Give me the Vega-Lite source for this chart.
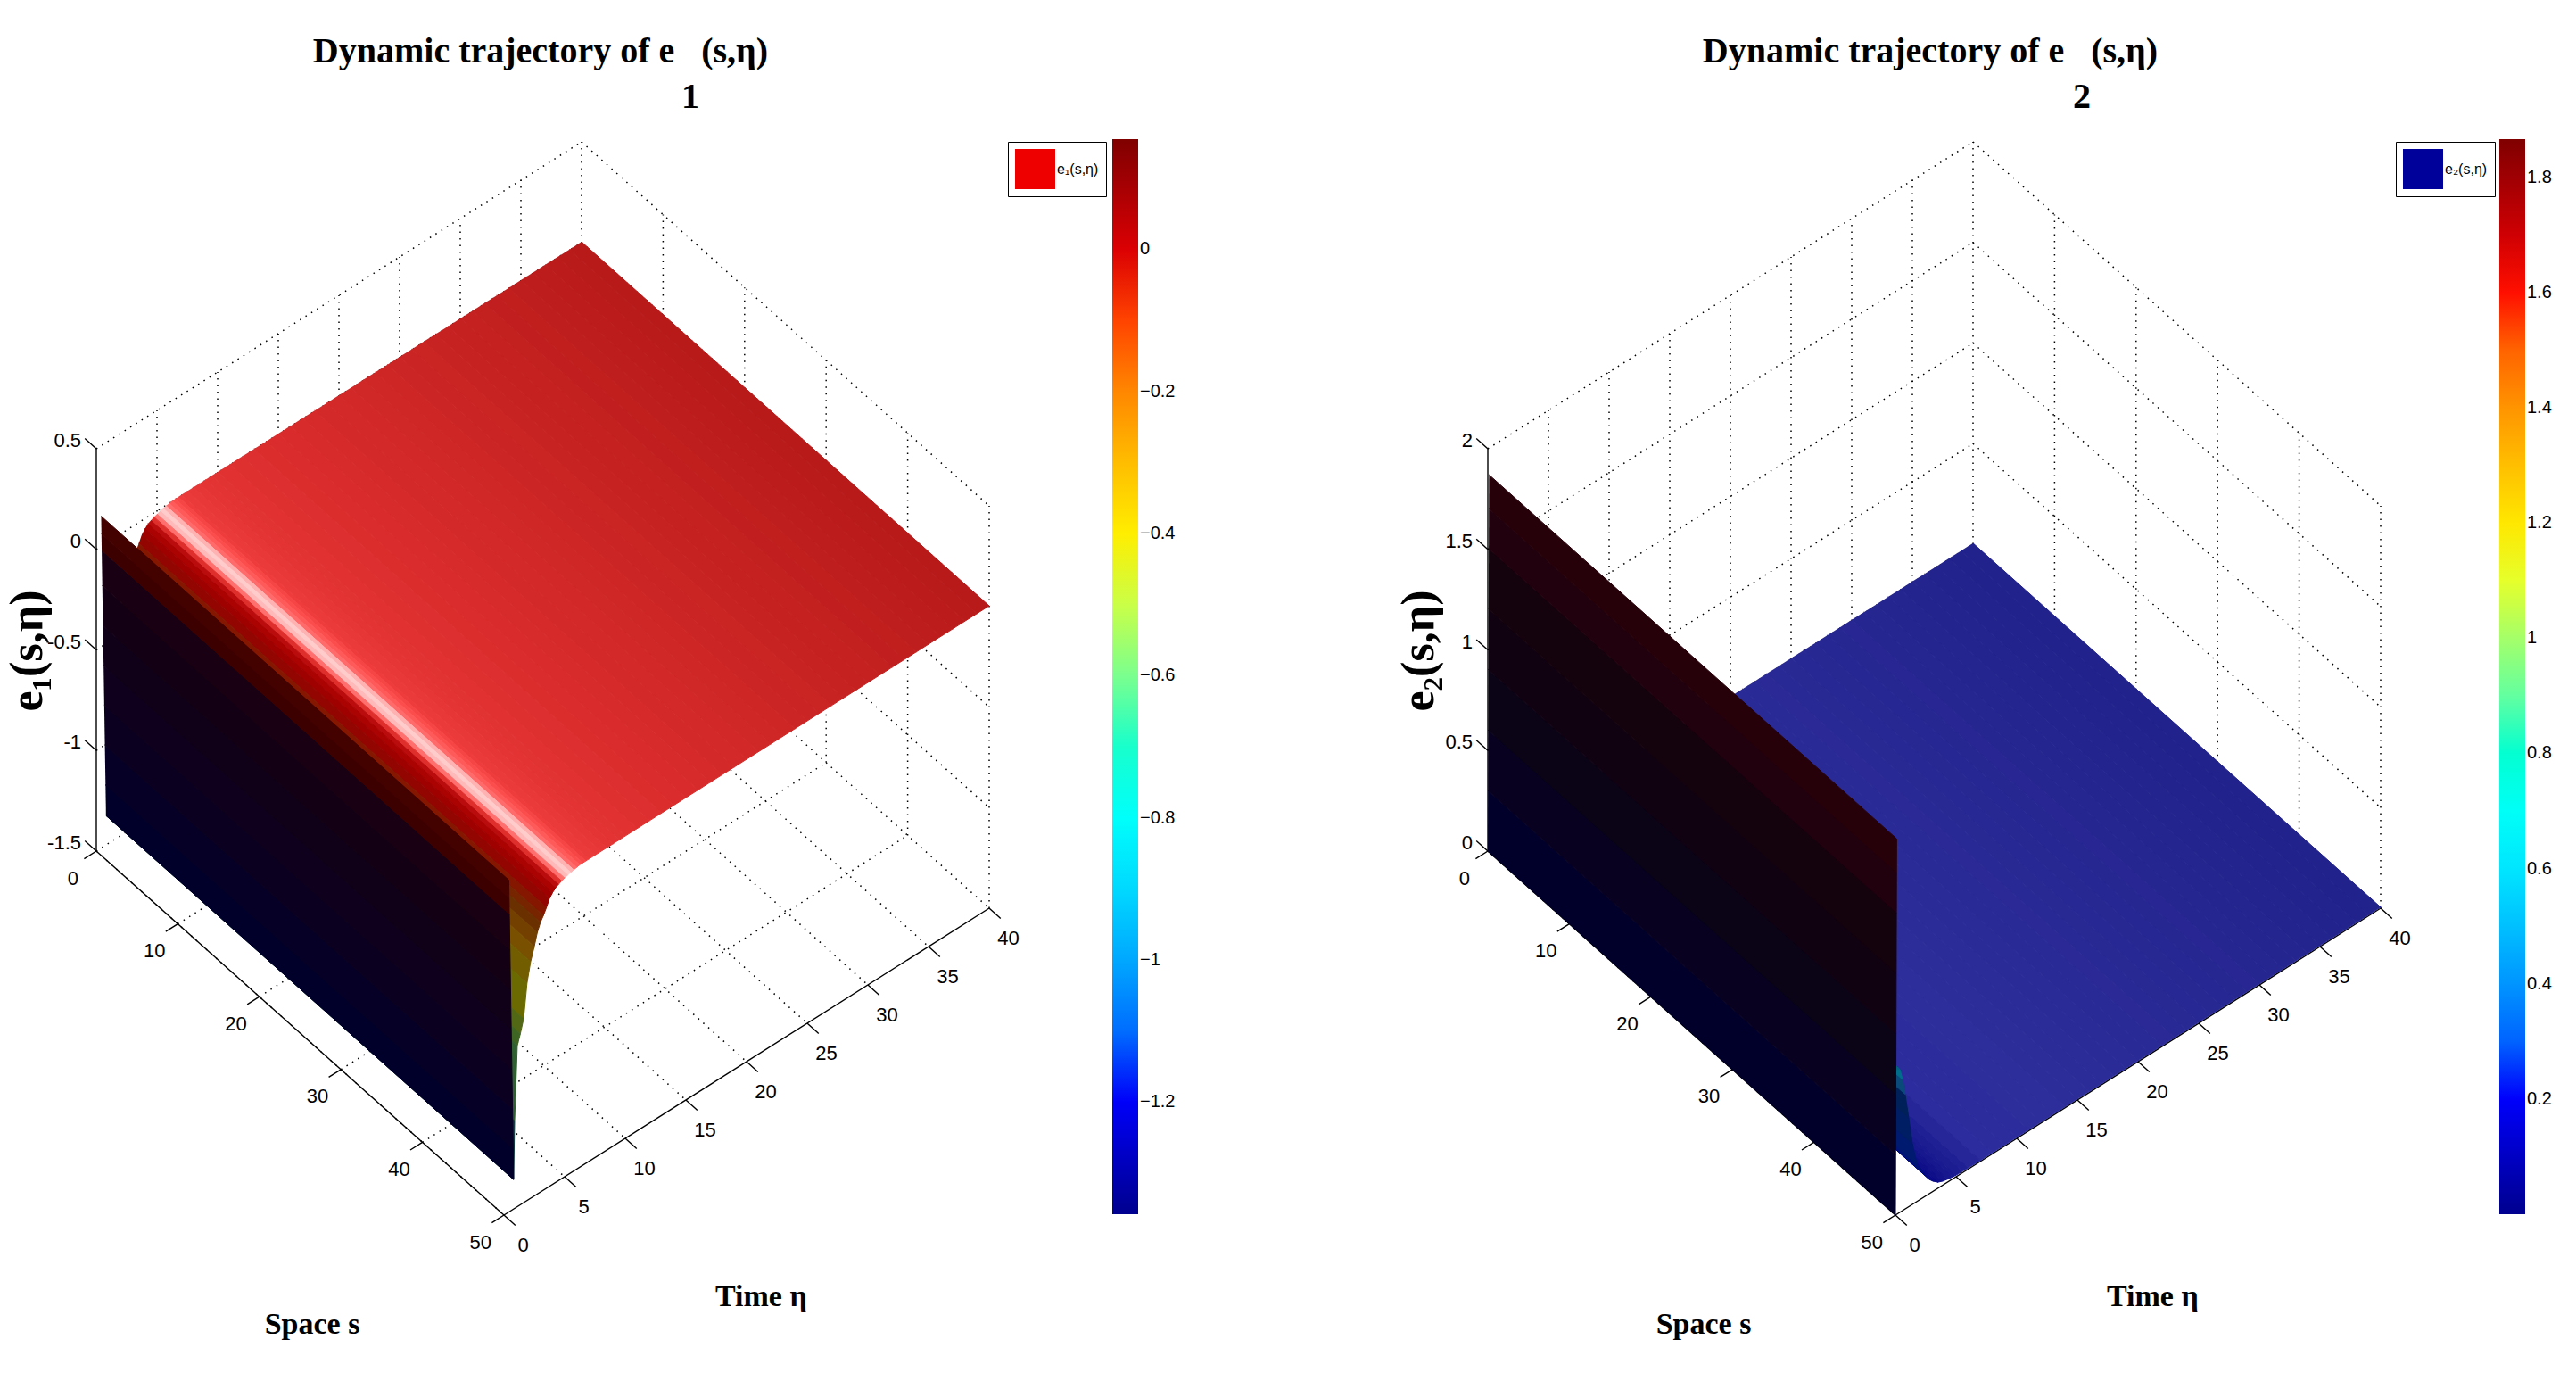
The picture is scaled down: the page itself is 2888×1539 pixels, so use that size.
{"$schema":"https://vega.github.io/schema/vega-lite/v6.json","padding":{"top":38,"left":0,"right":0,"bottom":0},"spacing":0,"bounds":"flush","background":"white","config":{"view":{"stroke":null},"concat":{"spacing":0}},
"datasets":{
"grid":[{"s":0,"t":0,"z":0,"s2":0,"t2":40,"z2":0},{"s":10,"t":0,"z":0,"s2":10,"t2":40,"z2":0},{"s":20,"t":0,"z":0,"s2":20,"t2":40,"z2":0},{"s":30,"t":0,"z":0,"s2":30,"t2":40,"z2":0},{"s":40,"t":0,"z":0,"s2":40,"t2":40,"z2":0},
{"s":0,"t":0,"z":0,"s2":50,"t2":0,"z2":0},{"s":0,"t":5,"z":0,"s2":50,"t2":5,"z2":0},{"s":0,"t":10,"z":0,"s2":50,"t2":10,"z2":0},{"s":0,"t":15,"z":0,"s2":50,"t2":15,"z2":0},{"s":0,"t":20,"z":0,"s2":50,"t2":20,"z2":0},{"s":0,"t":25,"z":0,"s2":50,"t2":25,"z2":0},{"s":0,"t":30,"z":0,"s2":50,"t2":30,"z2":0},{"s":0,"t":35,"z":0,"s2":50,"t2":35,"z2":0},{"s":0,"t":40,"z":0,"s2":50,"t2":40,"z2":0},
{"s":0,"t":0,"z":0.25,"s2":0,"t2":40,"z2":0.25},{"s":0,"t":0,"z":0.5,"s2":0,"t2":40,"z2":0.5},{"s":0,"t":0,"z":0.75,"s2":0,"t2":40,"z2":0.75},{"s":0,"t":0,"z":1,"s2":0,"t2":40,"z2":1},
{"s":0,"t":5,"z":0,"s2":0,"t2":5,"z2":1},{"s":0,"t":10,"z":0,"s2":0,"t2":10,"z2":1},{"s":0,"t":15,"z":0,"s2":0,"t2":15,"z2":1},{"s":0,"t":20,"z":0,"s2":0,"t2":20,"z2":1},{"s":0,"t":25,"z":0,"s2":0,"t2":25,"z2":1},{"s":0,"t":30,"z":0,"s2":0,"t2":30,"z2":1},{"s":0,"t":35,"z":0,"s2":0,"t2":35,"z2":1},{"s":0,"t":40,"z":0,"s2":0,"t2":40,"z2":1},
{"s":0,"t":40,"z":0.25,"s2":50,"t2":40,"z2":0.25},{"s":0,"t":40,"z":0.5,"s2":50,"t2":40,"z2":0.5},{"s":0,"t":40,"z":0.75,"s2":50,"t2":40,"z2":0.75},{"s":0,"t":40,"z":1,"s2":50,"t2":40,"z2":1},
{"s":10,"t":40,"z":0,"s2":10,"t2":40,"z2":1},{"s":20,"t":40,"z":0,"s2":20,"t2":40,"z2":1},{"s":30,"t":40,"z":0,"s2":30,"t2":40,"z2":1},{"s":40,"t":40,"z":0,"s2":40,"t2":40,"z2":1},{"s":50,"t":40,"z":0,"s2":50,"t2":40,"z2":1}],
"axes":[{"s":0,"t":0,"z":0,"s2":0,"t2":0,"z2":1},{"s":0,"t":0,"z":0,"s2":50,"t2":0,"z2":0},{"s":50,"t":0,"z":0,"s2":50,"t2":40,"z2":0},
{"s":0,"t":0,"z":0,"s2":0,"t2":-1,"z2":0},{"s":10,"t":0,"z":0,"s2":10,"t2":-1,"z2":0},{"s":20,"t":0,"z":0,"s2":20,"t2":-1,"z2":0},{"s":30,"t":0,"z":0,"s2":30,"t2":-1,"z2":0},{"s":40,"t":0,"z":0,"s2":40,"t2":-1,"z2":0},{"s":50,"t":0,"z":0,"s2":50,"t2":-1,"z2":0},
{"s":50,"t":0,"z":0,"s2":51.4,"t2":0,"z2":0},{"s":50,"t":5,"z":0,"s2":51.4,"t2":5,"z2":0},{"s":50,"t":10,"z":0,"s2":51.4,"t2":10,"z2":0},{"s":50,"t":15,"z":0,"s2":51.4,"t2":15,"z2":0},{"s":50,"t":20,"z":0,"s2":51.4,"t2":20,"z2":0},{"s":50,"t":25,"z":0,"s2":51.4,"t2":25,"z2":0},{"s":50,"t":30,"z":0,"s2":51.4,"t2":30,"z2":0},{"s":50,"t":35,"z":0,"s2":51.4,"t2":35,"z2":0},{"s":50,"t":40,"z":0,"s2":51.4,"t2":40,"z2":0},
{"s":0,"t":0,"z":0,"s2":-1.4,"t2":0,"z2":0},{"s":0,"t":0,"z":0.25,"s2":-1.4,"t2":0,"z2":0.25},{"s":0,"t":0,"z":0.5,"s2":-1.4,"t2":0,"z2":0.5},{"s":0,"t":0,"z":0.75,"s2":-1.4,"t2":0,"z2":0.75},{"s":0,"t":0,"z":1,"s2":-1.4,"t2":0,"z2":1}],
"ticks":[{"label":"0","s":1,"t":-2.6},{"label":"10","s":11,"t":-2.6},{"label":"20","s":21,"t":-2.6},{"label":"30","s":31,"t":-2.6},{"label":"40","s":41,"t":-2.6},{"label":"50","s":51,"t":-2.6},
{"label":"0","s":53.4,"t":-0.7},{"label":"5","s":53.4,"t":4.3},{"label":"10","s":53.4,"t":9.3},{"label":"15","s":53.4,"t":14.3},{"label":"20","s":53.4,"t":19.3},{"label":"25","s":53.4,"t":24.3},{"label":"30","s":53.4,"t":29.3},{"label":"35","s":53.4,"t":34.3},{"label":"40","s":53.4,"t":39.3}],
"names":[{"label":"Space s","s":49.1,"t":-15.2},{"label":"Time η","s":69.7,"t":7.96}],
"e1":[{"eta":40,"e":0.003},{"eta":39,"e":0.003},{"eta":38,"e":0.003},{"eta":37,"e":0.003},{"eta":36,"e":0.003},{"eta":35,"e":0.003},{"eta":34,"e":0.003},{"eta":33,"e":0.003},{"eta":32,"e":0.003},{"eta":31,"e":0.003},{"eta":30,"e":0.003},{"eta":29,"e":0.003},{"eta":28,"e":0.003},{"eta":27,"e":0.003},{"eta":26,"e":0.003},{"eta":25,"e":0.003},{"eta":24,"e":0.003},{"eta":23,"e":0.003},{"eta":22,"e":0.003},{"eta":21,"e":0.003},{"eta":20,"e":0.003},{"eta":19,"e":0.003},{"eta":18,"e":0.003},{"eta":17,"e":0.003},{"eta":16,"e":0.003},{"eta":15,"e":0.003},{"eta":14,"e":0.003},{"eta":13,"e":0.003},{"eta":12,"e":0.003},{"eta":11,"e":0.003},{"eta":10,"e":0.003},{"eta":9.5,"e":0.003},{"eta":9,"e":0.003},{"eta":8.5,"e":0.003},{"eta":8,"e":0.003},{"eta":7.5,"e":0.003},{"eta":7,"e":0.003},{"eta":6.75,"e":0.003},{"eta":6.5,"e":0.003},{"eta":6.25,"e":0.003},{"eta":6,"e":0},{"eta":5.75,"e":-0.003},{"eta":5.5,"e":-0.006},{"eta":5.25,"e":-0.01},{"eta":5,"e":-0.015},{"eta":4.75,"e":-0.02},{"eta":4.5,"e":-0.028},{"eta":4.25,"e":-0.035},{"eta":4,"e":-0.05},{"eta":3.75,"e":-0.07},{"eta":3.5,"e":-0.105},{"eta":3.25,"e":-0.135},{"eta":3,"e":-0.16},{"eta":2.75,"e":-0.2},{"eta":2.5,"e":-0.26},{"eta":2.2,"e":-0.324},{"eta":1.9,"e":-0.42},{"eta":1.62,"e":-0.586},{"eta":1.35,"e":-0.65},{"eta":1.1,"e":-0.7},{"eta":0.88,"e":-1.066},{"eta":0.8,"e":-1.354}],
"w1":[{"eta":0.8,"e":-1.354},{"eta":0.759,"e":-1.2},{"eta":0.706,"e":-1},{"eta":0.653,"e":-0.8},{"eta":0.6,"e":-0.6},{"eta":0.546,"e":-0.4},{"eta":0.493,"e":-0.2},{"eta":0.445,"e":-0.021},{"eta":0.424,"e":0.06},{"eta":0.4,"e":0.15}],
"e2":[{"eta":40,"e":0.005},{"eta":39,"e":0.005},{"eta":38,"e":0.005},{"eta":37,"e":0.005},{"eta":36,"e":0.005},{"eta":35,"e":0.005},{"eta":34,"e":0.005},{"eta":33,"e":0.005},{"eta":32,"e":0.005},{"eta":31,"e":0.005},{"eta":30,"e":0.005},{"eta":29,"e":0.005},{"eta":28,"e":0.005},{"eta":27,"e":0.005},{"eta":26,"e":0.005},{"eta":25,"e":0.005},{"eta":24,"e":0.005},{"eta":23,"e":0.005},{"eta":22,"e":0.005},{"eta":21,"e":0.005},{"eta":20,"e":0.005},{"eta":19,"e":0.005},{"eta":18,"e":0.005},{"eta":17,"e":0.005},{"eta":16,"e":0.005},{"eta":15,"e":0.005},{"eta":14,"e":0.005},{"eta":13,"e":0.005},{"eta":12,"e":0.005},{"eta":11,"e":0.005},{"eta":10,"e":0.005},{"eta":9,"e":0.005},{"eta":8,"e":0.005},{"eta":7,"e":0.005},{"eta":6,"e":0.006},{"eta":5.5,"e":0.007},{"eta":5,"e":0.008},{"eta":4.7,"e":0.01},{"eta":4.3,"e":0.015},{"eta":3.9,"e":0.02},{"eta":3.5,"e":0.03},{"eta":3.1,"e":0.05},{"eta":2.8,"e":0.07},{"eta":2.3,"e":0.12},{"eta":1.8,"e":0.18},{"eta":1.4,"e":0.3},{"eta":1.1,"e":0.44},{"eta":0.8,"e":0.57},{"eta":0.6,"e":0.65},{"eta":0.37,"e":0.71},{"eta":0.1,"e":0.72}],
"w2":[{"eta":0,"e":0},{"eta":0.016,"e":0.3},{"eta":0.032,"e":0.6},{"eta":0.048,"e":0.9},{"eta":0.064,"e":1.2},{"eta":0.08,"e":1.5},{"eta":0.09,"e":1.7},{"eta":0.1,"e":1.867}]},
"hconcat":[
{"width":1560,"height":1449,
"title":{"text":"Dynamic trajectory of e\u00a0\u00a0\u00a0(s,η)","font":"Liberation Serif","fontWeight":"bold","fontSize":40,"anchor":"start","align":"center","dx":606,"offset":11},
"encoding":{"x":{"field":"px","type":"quantitative","scale":{"domain":[0,1560],"nice":false,"zero":false},"axis":null},"y":{"field":"py","type":"quantitative","scale":{"domain":[1539,90],"nice":false,"zero":false},"axis":null}},
"resolve":{"scale":{"fill":"independent","stroke":"independent"},"legend":{"fill":"independent"}},
"layer":[
{"data":{"name":"grid"},"transform":[{"calculate":"108+9.14*datum.s+13.6*datum.t","as":"px"},{"calculate":"955+8.16*datum.s-8.6*datum.t-451*datum.z","as":"py"},{"calculate":"108+9.14*datum.s2+13.6*datum.t2","as":"qx"},{"calculate":"955+8.16*datum.s2-8.6*datum.t2-451*datum.z2","as":"qy"}],
"mark":{"type":"rule","color":"#000000","strokeWidth":1.5,"strokeDash":[1.5,6]},"encoding":{"x2":{"field":"qx"},"y2":{"field":"qy"}}},
{"data":{"name":"axes"},"transform":[{"calculate":"108+9.14*datum.s+13.6*datum.t","as":"px"},{"calculate":"955+8.16*datum.s-8.6*datum.t-451*datum.z","as":"py"},{"calculate":"108+9.14*datum.s2+13.6*datum.t2","as":"qx"},{"calculate":"955+8.16*datum.s2-8.6*datum.t2-451*datum.z2","as":"qy"}],
"mark":{"type":"rule","color":"#000000","strokeWidth":1.4},"encoding":{"x2":{"field":"qx"},"y2":{"field":"qy"}}},
{"data":{"name":"e1"},"transform":[{"calculate":"108+13.6*datum.eta+9.14*25","as":"px"},{"calculate":"955+8.16*25-8.6*datum.eta-451*(datum.e+1.5)/2","as":"py"}],
"mark":{"type":"point","filled":true,"opacity":0},
"encoding":{"fill":{"field":"e","type":"quantitative","scale":{"domain":[-1.358,-1.192,-0.813,-0.435,-0.057,0.155],"range":["#00008f","#0000ff","#00ffff","#ffff00","#ff0000","#800000"]},
"legend":{"title":null,"orient":"none","legendX":1247,"legendY":67,"gradientLength":1205,"gradientThickness":29,"values":[-1.2,-1,-0.8,-0.6,-0.4,-0.2,0],"format":".1~f","labelFont":"Liberation Sans","labelFontSize":20,"labelOverlap":false,"padding":0,"gradientStrokeWidth":0,"labelPadding":6}}}},
{"data":{"values":[{"series":"e₁(s,η)","s":25,"t":20,"v":0}]},"transform":[{"calculate":"108+9.14*datum.s+13.6*datum.t","as":"px"},{"calculate":"955+8.16*datum.s-8.6*datum.t","as":"py"}],
"mark":{"type":"point","filled":true,"opacity":0,"shape":"square"},
"encoding":{"fill":{"field":"series","type":"nominal","scale":{"range":["#ee0000"]},"legend":{"title":null,"orient":"none","legendX":1130,"legendY":70,"symbolType":"square","symbolSize":2025,"symbolOpacity":1,"symbolStrokeWidth":0,"labelFont":"Liberation Sans","labelFontSize":16,"fillColor":"#ffffff","strokeColor":"#000000","padding":8,"labelOffset":2}}}},
{"data":{"name":"e1"},"transform":[{"window":[{"op":"lead","field":"eta","as":"eta2"},{"op":"lead","field":"e","as":"e2"}],"sort":[{"field":"eta","order":"descending"}]},{"filter":"isValid(datum.eta2)"},{"calculate":"[0,50,50,0]","as":"s"},{"calculate":"[datum.eta,datum.eta,datum.eta2,datum.eta2]","as":"t"},{"calculate":"[datum.e,datum.e,datum.e2,datum.e2]","as":"v"},{"calculate":"[0,1,2,3]","as":"k"},{"flatten":["s","t","v","k"]},{"calculate":"'q'+datum.eta","as":"q"},{"calculate":"108+9.14*datum.s+13.6*datum.t","as":"px"},{"calculate":"955+8.16*datum.s-8.6*datum.t-451*(datum.v+1.5)/2","as":"py"}],
"mark":{"type":"line","strokeWidth":1},
"encoding":{"detail":{"field":"q"},"order":{"field":"k","type":"quantitative"},
"fill":{"field":"eta","type":"quantitative","legend":null,"scale":{"domain":[0.8,1.1,1.9,2.6,3,3.4,3.8,4.2,4.6,4.9,5.1,5.35,5.7,6,6.4,7,9,15,40],"range":["#1a2a30","#2f6030","#6a6a00","#7a4a00","#6a3000","#7f1a00","#960000","#a80000","#c01010","#ff4848","#ff9090","#ffd4d4","#ffc0c0","#ff6a6a","#ff5050","#ee3c3c","#e43434","#da2c2c","#b81a1a"]}},
"stroke":{"field":"eta","type":"quantitative","legend":null,"scale":{"domain":[0.8,1.1,1.9,2.6,3,3.4,3.8,4.2,4.6,4.9,5.1,5.35,5.7,6,6.4,7,9,15,40],"range":["#1a2a30","#2f6030","#6a6a00","#7a4a00","#6a3000","#7f1a00","#960000","#a80000","#c01010","#ff4848","#ff9090","#ffd4d4","#ffc0c0","#ff6a6a","#ff5050","#ee3c3c","#e43434","#da2c2c","#b81a1a"]}}}},
{"data":{"name":"w1"},"transform":[{"window":[{"op":"lead","field":"eta","as":"eta2"},{"op":"lead","field":"e","as":"e2"}],"sort":[{"field":"e","order":"ascending"}]},{"filter":"isValid(datum.eta2)"},{"calculate":"[0,50,50,0]","as":"s"},{"calculate":"[datum.eta,datum.eta,datum.eta2,datum.eta2]","as":"t"},{"calculate":"[datum.e,datum.e,datum.e2,datum.e2]","as":"v"},{"calculate":"[0,1,2,3]","as":"k"},{"flatten":["s","t","v","k"]},{"calculate":"'q'+datum.e","as":"q"},{"calculate":"108+9.14*datum.s+13.6*datum.t","as":"px"},{"calculate":"955+8.16*datum.s-8.6*datum.t-451*(datum.v+1.5)/2","as":"py"}],
"mark":{"type":"line","strokeWidth":1},
"encoding":{"detail":{"field":"q"},"order":{"field":"k","type":"quantitative"},
"fill":{"field":"e","type":"quantitative","legend":null,"scale":{"domain":[-1.354,-0.5,-0.03,-0.021,0.15],"range":["#00002a","#100016","#1c000e","#3d0000","#4a0500"]}},
"stroke":{"field":"e","type":"quantitative","legend":null,"scale":{"domain":[-1.354,-0.5,-0.03,-0.021,0.15],"range":["#00002a","#100016","#1c000e","#3d0000","#4a0500"]}}}},
{"data":{"name":"ticks"},"transform":[{"calculate":"108+9.14*datum.s+13.6*datum.t","as":"px"},{"calculate":"955+8.16*datum.s-8.6*datum.t","as":"py"}],
"mark":{"type":"text","font":"Liberation Sans","fontSize":22,"align":"center","baseline":"middle","color":"#000000"},"encoding":{"text":{"field":"label"}}},
{"data":{"values":[{"label":"-1.5","z":0},{"label":"-1","z":0.25},{"label":"-0.5","z":0.5},{"label":"0","z":0.75},{"label":"0.5","z":1}]},"transform":[{"calculate":"108-9.14*1.41-13.6*0.3","as":"px"},{"calculate":"955-8.16*1.41+8.6*0.3-451*datum.z","as":"py"}],
"mark":{"type":"text","font":"Liberation Sans","fontSize":22,"align":"right","baseline":"middle","color":"#000000"},"encoding":{"text":{"field":"label"}}},
{"data":{"name":"names"},"transform":[{"calculate":"108+9.14*datum.s+13.6*datum.t","as":"px"},{"calculate":"955+8.16*datum.s-8.6*datum.t","as":"py"}],
"mark":{"type":"text","font":"Liberation Serif","fontWeight":"bold","fontSize":34,"align":"center","baseline":"middle","color":"#000000"},"encoding":{"text":{"field":"label"}}},
{"data":{"values":[{"label":"e₁(s,η)","s":-19.6,"t":7.5}]},"transform":[{"calculate":"108+9.14*datum.s+13.6*datum.t","as":"px"},{"calculate":"955+8.16*datum.s-8.6*datum.t","as":"py"}],
"mark":{"type":"text","font":"Liberation Serif","fontWeight":"bold","fontSize":52,"angle":270,"align":"center","baseline":"middle","color":"#000000"},"encoding":{"text":{"field":"label"}}},
{"data":{"values":[{"label":"1","s":-30.4,"t":69.4}]},"transform":[{"calculate":"108+9.14*datum.s+13.6*datum.t","as":"px"},{"calculate":"955+8.16*datum.s-8.6*datum.t","as":"py"}],
"mark":{"type":"text","font":"Liberation Serif","fontWeight":"bold","fontSize":40,"align":"center","baseline":"middle","color":"#000000"},"encoding":{"text":{"field":"label"}}}
]},
{"width":1328,"height":1449,
"title":{"text":"Dynamic trajectory of e\u00a0\u00a0\u00a0(s,η)","font":"Liberation Serif","fontWeight":"bold","fontSize":40,"anchor":"start","align":"center","dx":604,"offset":11},
"encoding":{"x":{"field":"px","type":"quantitative","scale":{"domain":[0,1328],"nice":false,"zero":false},"axis":null},"y":{"field":"py","type":"quantitative","scale":{"domain":[1539,90],"nice":false,"zero":false},"axis":null}},
"resolve":{"scale":{"fill":"independent","stroke":"independent"},"legend":{"fill":"independent"}},
"layer":[
{"data":{"name":"grid"},"transform":[{"calculate":"108+9.14*datum.s+13.6*datum.t","as":"px"},{"calculate":"955+8.16*datum.s-8.6*datum.t-451*datum.z","as":"py"},{"calculate":"108+9.14*datum.s2+13.6*datum.t2","as":"qx"},{"calculate":"955+8.16*datum.s2-8.6*datum.t2-451*datum.z2","as":"qy"}],
"mark":{"type":"rule","color":"#000000","strokeWidth":1.5,"strokeDash":[1.5,6]},"encoding":{"x2":{"field":"qx"},"y2":{"field":"qy"}}},
{"data":{"name":"axes"},"transform":[{"calculate":"108+9.14*datum.s+13.6*datum.t","as":"px"},{"calculate":"955+8.16*datum.s-8.6*datum.t-451*datum.z","as":"py"},{"calculate":"108+9.14*datum.s2+13.6*datum.t2","as":"qx"},{"calculate":"955+8.16*datum.s2-8.6*datum.t2-451*datum.z2","as":"qy"}],
"mark":{"type":"rule","color":"#000000","strokeWidth":1.4},"encoding":{"x2":{"field":"qx"},"y2":{"field":"qy"}}},
{"data":{"name":"e2"},"transform":[{"calculate":"108+13.6*datum.eta+9.14*25","as":"px"},{"calculate":"955+8.16*25-8.6*datum.eta-451*datum.e/2","as":"py"}],
"mark":{"type":"point","filled":true,"opacity":0},
"encoding":{"fill":{"field":"e","type":"quantitative","scale":{"domain":[0,0.205,0.672,1.138,1.605,1.866],"range":["#00008f","#0000ff","#00ffff","#ffff00","#ff0000","#800000"]},
"legend":{"title":null,"orient":"none","legendX":1242,"legendY":67,"gradientLength":1205,"gradientThickness":29,"values":[0.2,0.4,0.6,0.8,1,1.2,1.4,1.6,1.8],"format":".1~f","labelFont":"Liberation Sans","labelFontSize":20,"labelOverlap":false,"padding":0,"gradientStrokeWidth":0,"labelPadding":6}}}},
{"data":{"values":[{"series":"e₂(s,η)","s":25,"t":20,"v":0}]},"transform":[{"calculate":"108+9.14*datum.s+13.6*datum.t","as":"px"},{"calculate":"955+8.16*datum.s-8.6*datum.t","as":"py"}],
"mark":{"type":"point","filled":true,"opacity":0,"shape":"square"},
"encoding":{"fill":{"field":"series","type":"nominal","scale":{"range":["#00009a"]},"legend":{"title":null,"orient":"none","legendX":1126,"legendY":70,"symbolType":"square","symbolSize":2025,"symbolOpacity":1,"symbolStrokeWidth":0,"labelFont":"Liberation Sans","labelFontSize":16,"fillColor":"#ffffff","strokeColor":"#000000","padding":8,"labelOffset":2}}}},
{"data":{"name":"e2"},"transform":[{"window":[{"op":"lead","field":"eta","as":"eta2"},{"op":"lead","field":"e","as":"e2"}],"sort":[{"field":"eta","order":"descending"}]},{"filter":"isValid(datum.eta2)"},{"calculate":"[0,50,50,0]","as":"s"},{"calculate":"[datum.eta,datum.eta,datum.eta2,datum.eta2]","as":"t"},{"calculate":"[datum.e,datum.e,datum.e2,datum.e2]","as":"v"},{"calculate":"[0,1,2,3]","as":"k"},{"flatten":["s","t","v","k"]},{"calculate":"'q'+datum.eta","as":"q"},{"calculate":"108+9.14*datum.s+13.6*datum.t","as":"px"},{"calculate":"955+8.16*datum.s-8.6*datum.t-451*datum.v/2","as":"py"}],
"mark":{"type":"line","strokeWidth":1},
"encoding":{"detail":{"field":"q"},"order":{"field":"k","type":"quantitative"},
"fill":{"field":"eta","type":"quantitative","legend":null,"scale":{"domain":[0.1,0.5,0.8,1.1,1.8,2.8,3.5,5,8,15,40],"range":["#0a2a50","#0f7f8f","#0a4a7a","#00205a","#001a70","#000a80","#0a0a88","#1a1a90","#2c2c9e","#2d2d9a","#22228c"]}},
"stroke":{"field":"eta","type":"quantitative","legend":null,"scale":{"domain":[0.1,0.5,0.8,1.1,1.8,2.8,3.5,5,8,15,40],"range":["#0a2a50","#0f7f8f","#0a4a7a","#00205a","#001a70","#000a80","#0a0a88","#1a1a90","#2c2c9e","#2d2d9a","#22228c"]}}}},
{"data":{"name":"w2"},"transform":[{"window":[{"op":"lead","field":"eta","as":"eta2"},{"op":"lead","field":"e","as":"e2"}],"sort":[{"field":"e","order":"ascending"}]},{"filter":"isValid(datum.eta2)"},{"calculate":"[0,50,50,0]","as":"s"},{"calculate":"[datum.eta,datum.eta,datum.eta2,datum.eta2]","as":"t"},{"calculate":"[datum.e,datum.e,datum.e2,datum.e2]","as":"v"},{"calculate":"[0,1,2,3]","as":"k"},{"flatten":["s","t","v","k"]},{"calculate":"'q'+datum.e","as":"q"},{"calculate":"108+9.14*datum.s+13.6*datum.t","as":"px"},{"calculate":"955+8.16*datum.s-8.6*datum.t-451*datum.v/2","as":"py"}],
"mark":{"type":"line","strokeWidth":1},
"encoding":{"detail":{"field":"q"},"order":{"field":"k","type":"quantitative"},
"fill":{"field":"e","type":"quantitative","legend":null,"scale":{"domain":[0,0.6,1.2,1.867],"range":["#00002a","#0a0416","#14020c","#2c0002"]}},
"stroke":{"field":"e","type":"quantitative","legend":null,"scale":{"domain":[0,0.6,1.2,1.867],"range":["#00002a","#0a0416","#14020c","#2c0002"]}}}},
{"data":{"name":"ticks"},"transform":[{"calculate":"108+9.14*datum.s+13.6*datum.t","as":"px"},{"calculate":"955+8.16*datum.s-8.6*datum.t","as":"py"}],
"mark":{"type":"text","font":"Liberation Sans","fontSize":22,"align":"center","baseline":"middle","color":"#000000"},"encoding":{"text":{"field":"label"}}},
{"data":{"values":[{"label":"0","z":0},{"label":"0.5","z":0.25},{"label":"1","z":0.5},{"label":"1.5","z":0.75},{"label":"2","z":1}]},"transform":[{"calculate":"108-9.14*1.41-13.6*0.3","as":"px"},{"calculate":"955-8.16*1.41+8.6*0.3-451*datum.z","as":"py"}],
"mark":{"type":"text","font":"Liberation Sans","fontSize":22,"align":"right","baseline":"middle","color":"#000000"},"encoding":{"text":{"field":"label"}}},
{"data":{"name":"names"},"transform":[{"calculate":"108+9.14*datum.s+13.6*datum.t","as":"px"},{"calculate":"955+8.16*datum.s-8.6*datum.t","as":"py"}],
"mark":{"type":"text","font":"Liberation Serif","fontWeight":"bold","fontSize":34,"align":"center","baseline":"middle","color":"#000000"},"encoding":{"text":{"field":"label"}}},
{"data":{"values":[{"label":"e₂(s,η)","s":-19.6,"t":7.5}]},"transform":[{"calculate":"108+9.14*datum.s+13.6*datum.t","as":"px"},{"calculate":"955+8.16*datum.s-8.6*datum.t","as":"py"}],
"mark":{"type":"text","font":"Liberation Serif","fontWeight":"bold","fontSize":52,"angle":270,"align":"center","baseline":"middle","color":"#000000"},"encoding":{"text":{"field":"label"}}},
{"data":{"values":[{"label":"2","s":-30.4,"t":69.4}]},"transform":[{"calculate":"108+9.14*datum.s+13.6*datum.t","as":"px"},{"calculate":"955+8.16*datum.s-8.6*datum.t","as":"py"}],
"mark":{"type":"text","font":"Liberation Serif","fontWeight":"bold","fontSize":40,"align":"center","baseline":"middle","color":"#000000"},"encoding":{"text":{"field":"label"}}}
]}
]}
